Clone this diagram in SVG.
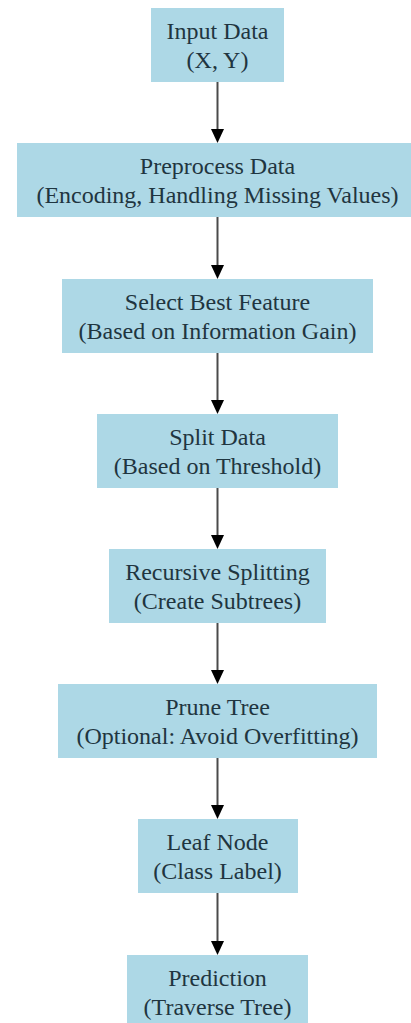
<svg xmlns="http://www.w3.org/2000/svg" width="411" height="1023" viewBox="0 0 411 1023">
<defs>
<style>
.n rect{fill:#add8e6;stroke:none}
.n text{font-size:24px;fill:#1f3540;text-anchor:middle}
.e line{stroke:#4a4a4a;stroke-width:2}
.e polygon{fill:#000}
</style>
</defs>
<rect width="411" height="1023" fill="#ffffff"/>
<g id="connectors" class="e">
<line x1="217.5" y1="82" x2="217.5" y2="130"/><polygon points="211,129 224,129 217.5,143"/>
<line x1="217.5" y1="217" x2="217.5" y2="266"/><polygon points="211,265 224,265 217.5,279"/>
<line x1="217.5" y1="353" x2="217.5" y2="401"/><polygon points="211,400 224,400 217.5,414"/>
<line x1="217.5" y1="488" x2="217.5" y2="536"/><polygon points="211,535 224,535 217.5,549"/>
<line x1="217.5" y1="623" x2="217.5" y2="671"/><polygon points="211,670 224,670 217.5,684"/>
<line x1="217.5" y1="758" x2="217.5" y2="806"/><polygon points="211,805 224,805 217.5,819"/>
<line x1="217.5" y1="893" x2="217.5" y2="942"/><polygon points="211,941 224,941 217.5,955"/>
</g>
<g font-family="Liberation Serif, Times New Roman, Tinos, DejaVu Serif, serif">
<g id="input" class="n"><rect x="151" y="8" width="133" height="74"/><text x="217.5" y="39">Input Data</text><text x="217.5" y="68">(X, Y)</text></g>
<g id="preprocess" class="n"><rect x="17" y="143" width="401" height="74"/><text x="217.5" y="174">Preprocess Data</text><text x="217.5" y="203">(Encoding, Handling Missing Values)</text></g>
<g id="select" class="n"><rect x="62" y="279" width="311" height="74"/><text x="217.5" y="310">Select Best Feature</text><text x="217.5" y="339">(Based on Information Gain)</text></g>
<g id="split" class="n"><rect x="97" y="414" width="241" height="74"/><text x="217.5" y="445">Split Data</text><text x="217.5" y="474">(Based on Threshold)</text></g>
<g id="recursive" class="n"><rect x="109" y="549" width="217" height="74"/><text x="217.5" y="580">Recursive Splitting</text><text x="217.5" y="609">(Create Subtrees)</text></g>
<g id="prune" class="n"><rect x="58" y="684" width="319" height="74"/><text x="217.5" y="715">Prune Tree</text><text x="217.5" y="744">(Optional: Avoid Overfitting)</text></g>
<g id="leaf" class="n"><rect x="138" y="819" width="160" height="74"/><text x="217.5" y="850">Leaf Node</text><text x="217.5" y="879">(Class Label)</text></g>
<g id="prediction" class="n"><rect x="127" y="955" width="181" height="74"/><text x="217.5" y="986">Prediction</text><text x="217.5" y="1015">(Traverse Tree)</text></g>
</g>
</svg>
